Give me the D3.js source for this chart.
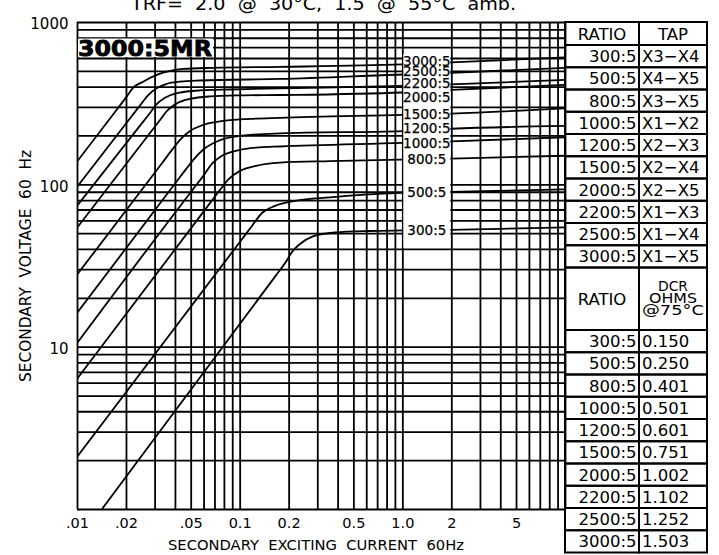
<!DOCTYPE html>
<html>
<head>
<meta charset="utf-8">
<script src="https://cdn.jsdelivr.net/npm/d3@7"></script>
<style>
  body { margin: 0; background: #fff; }
  svg { display: block; font-family: "DejaVu Sans", sans-serif; }
  .grid line { stroke: #000; stroke-width: 1.8; }
  .grid .domain { display: none; }
  .cell { fill: none; stroke: #000; stroke-width: 2; }
</style>
</head>
<body>
<div id="chart"></div>
<script>
// table columns
const ratios = ["300:5", "500:5", "800:5", "1000:5", "1200:5", "1500:5", "2000:5", "2200:5", "2500:5", "3000:5"]
const taps = ["X3\u2212X4", "X4\u2212X5", "X3\u2212X5", "X1\u2212X2", "X2\u2212X3", "X2\u2212X4", "X2\u2212X5", "X1\u2212X3", "X1\u2212X4", "X1\u2212X5"]
const dcrOhms = ["0.150", "0.250", "0.401", "0.501", "0.601", "0.751", "1.002", "1.102", "1.252", "1.503"]

// axis ticks
const xTickValues = [0.01, 0.02, 0.05, 0.1, 0.2, 0.5, 1, 2, 5]
const xTickLabels = [".01", ".02", ".05", "0.1", "0.2", "0.5", "1.0", "2", "5"]
const yTickValues = [10, 100, 1000]
const yTickLabels = ["10", "100", "1000"]

// excitation curves: [secondary current A, secondary volts]
const curve300 = [[0.01425, 1], [0.1672, 27.5], [0.1926, 33.3], [0.2097, 38.3], [0.2348, 42.9], [0.2821, 47.8], [0.385, 50.5], [0.632, 51.6], [1, 52], [2, 52.4], [10, 54.3]]
const curve500 = [[0.01, 2.09], [0.1033, 45.9], [0.119, 55.4], [0.1371, 66.6], [0.1648, 73.6], [0.2188, 79], [0.359, 83.1], [1, 88.5], [2, 89.8], [10, 93]]
const curve800 = [[0.01, 6.32], [0.0657, 76.6], [0.0757, 92.4], [0.0859, 108], [0.1004, 121], [0.126, 130], [0.177, 136], [0.359, 139], [1, 142], [2, 144], [10, 150]]
const curve1000 = [[0.01, 10.5], [0.0524, 95], [0.0603, 114], [0.0676, 134], [0.0778, 150], [0.0976, 162], [0.1333, 169], [0.177, 171], [1, 180], [2, 184], [10, 195]]
const curve1200 = [[0.01, 16.1], [0.0406, 103], [0.0468, 124], [0.0524, 143], [0.0603, 165], [0.0736, 185], [0.1004, 199], [0.177, 206], [1, 213], [2, 220], [10, 229]]
const curve1500 = [[0.01, 27.7], [0.0333, 135], [0.0384, 163], [0.043, 188], [0.0495, 213], [0.0587, 231], [0.0757, 244], [0.1157, 253], [0.177, 257], [1, 268], [2, 273], [10, 294]]
const curve2000 = [[0.01, 53.9], [0.0281, 207], [0.0324, 249], [0.0357, 283], [0.0406, 313], [0.0495, 336], [0.0657, 348], [0.1004, 353], [0.177, 355], [1, 368], [2, 382], [10, 410]]
const curve2200 = [[0.01, 73.6], [0.0244, 230], [0.0281, 275], [0.0306, 309], [0.0347, 341], [0.0418, 366], [0.057, 379], [0.0872, 384], [0.177, 390], [1, 404], [2, 413], [10, 440]]
const curve2500 = [[0.01, 96.4], [0.0215, 260], [0.025, 316], [0.0274, 355], [0.0309, 391], [0.0356, 416], [0.043, 429], [0.057, 436], [0.177, 446], [1, 475], [2, 486], [10, 522]]
const curve3000 = [[0.01, 138], [0.0174, 285], [0.0202, 347], [0.0221, 393], [0.0255, 429], [0.0309, 472], [0.0373, 500], [0.0448, 514], [0.0686, 522], [0.177, 529], [1, 548], [2, 564], [10, 605]]

const curves = [
  { ratio: "300:5", points: curve300 },
  { ratio: "500:5", points: curve500 },
  { ratio: "800:5", points: curve800 },
  { ratio: "1000:5", points: curve1000 },
  { ratio: "1200:5", points: curve1200 },
  { ratio: "1500:5", points: curve1500 },
  { ratio: "2000:5", points: curve2000 },
  { ratio: "2200:5", points: curve2200 },
  { ratio: "2500:5", points: curve2500 },
  { ratio: "3000:5", points: curve3000 },
]

// small label shifts where the top labels crowd together
const labelNudge = { "3000:5": -2, "2500:5": -3, "2200:5": -2, "2000:5": 5.5, "1200:5": -2, "1000:5": 1 }

const W = 719, H = 555
const plotL = 77, plotR = 565, plotT = 22, plotB = 509

const x = d3.scaleLog().domain([0.01, 10]).range([plotL, plotR])
const y = d3.scaleLog().domain([1, 1000]).range([plotB, plotT])

const svg = d3.select("#chart").append("svg")
  .attr("width", W)
  .attr("height", H)

svg.append("rect").attr("width", W).attr("height", H).attr("fill", "#fff")

// grid
svg.append("g")
  .attr("class", "grid")
  .attr("transform", `translate(0,${plotB})`)
  .call(d3.axisBottom(x).tickValues(x.ticks()).tickSize(-(plotB - plotT)).tickFormat(""))

svg.append("g")
  .attr("class", "grid")
  .attr("transform", `translate(${plotL},0)`)
  .call(d3.axisLeft(y).tickValues(y.ticks()).tickSize(-(plotR - plotL)).tickFormat(""))

// curves
svg.append("clipPath").attr("id", "plot-clip")
  .append("rect")
  .attr("x", plotL).attr("y", plotT)
  .attr("width", plotR - plotL).attr("height", plotB - plotT)

const line = d3.line()
  .x(d => x(d[0]))
  .y(d => y(d[1]))
  .curve(d3.curveMonotoneX)

svg.append("g")
  .attr("clip-path", "url(#plot-clip)")
  .selectAll("path")
  .data(curves)
  .join("path")
  .attr("d", d => line(d.points))
  .attr("fill", "none")
  .attr("stroke", "#000")
  .attr("stroke-width", 1.8)

// label gap between 1.0 and 2
svg.append("rect")
  .attr("x", x(1) + 1)
  .attr("y", 54)
  .attr("width", x(2) - x(1) - 2)
  .attr("height", 194)
  .attr("fill", "#fff")

const valAt = (pts, c) => pts.find(p => p[0] === c)[1]

svg.append("g")
  .selectAll("text")
  .data(curves)
  .join("text")
  .attr("x", (x(1) + x(2)) / 2)
  .attr("y", d => (y(valAt(d.points, 1)) + y(valAt(d.points, 2))) / 2 + (labelNudge[d.ratio] || 0))
  .attr("dy", "0.36em")
  .attr("text-anchor", "middle")
  .attr("font-size", 13.5)
  .attr("stroke", "#000")
  .attr("stroke-width", 0.25)
  .text(d => d.ratio)

// big title inside plot
svg.append("rect")
  .attr("x", plotL + 1).attr("y", 38.5)
  .attr("width", 135).attr("height", 18.5)
  .attr("fill", "#fff")

svg.append("text")
  .attr("x", plotL + 1)
  .attr("y", 56)
  .attr("font-size", 22)
  .attr("font-weight", "bold")
  .attr("stroke", "#000")
  .attr("stroke-width", 0.8)
  .attr("textLength", 134)
  .attr("lengthAdjust", "spacingAndGlyphs")
  .text("3000:5MR")

// tick labels
svg.append("g")
  .attr("transform", `translate(0,${plotB})`)
  .call(d3.axisBottom(x).tickValues(xTickValues).tickSize(0).tickPadding(9)
    .tickFormat((d, i) => xTickLabels[i]))
  .call(g => g.select(".domain").remove())
  .call(g => g.selectAll("text").attr("font-size", 14.5).attr("fill", "#000").attr("font-family", "DejaVu Sans"))

svg.append("g")
  .attr("transform", `translate(${plotL},0)`)
  .call(d3.axisLeft(y).tickValues(yTickValues).tickSize(0).tickPadding(8.5)
    .tickFormat((d, i) => yTickLabels[i]))
  .call(g => g.select(".domain").remove())
  .call(g => g.selectAll("text").attr("font-size", 15).attr("dy", "0.45em").attr("fill", "#000").attr("font-family", "DejaVu Sans"))

// axis titles
svg.append("text")
  .attr("x", 168)
  .attr("y", 550)
  .attr("font-size", 14.5)
  .attr("textLength", 296)
  .attr("lengthAdjust", "spacingAndGlyphs")
  .attr("xml:space", "preserve")
  .text("SECONDARY  EXCITING  CURRENT  60Hz")

svg.append("text")
  .attr("transform", "translate(31,266) rotate(-90)")
  .attr("text-anchor", "middle")
  .attr("font-size", 16)
  .attr("textLength", 232)
  .attr("lengthAdjust", "spacingAndGlyphs")
  .attr("xml:space", "preserve")
  .text("SECONDARY  VOLTAGE  60  Hz")

// cut-off heading at the very top
svg.append("text")
  .attr("x", 131)
  .attr("y", 10)
  .attr("font-size", 18)
  .attr("textLength", 385)
  .attr("lengthAdjust", "spacingAndGlyphs")
  .attr("xml:space", "preserve")
  .text("TRF=  2.0  @  30\u00b0C,  1.5  @  55\u00b0C  amb.")

// tables
const tx0 = 565, tx1 = 639, tx2 = 707
const rowH = 22.25
const t1Top = 22, t1Head = 23
const t2Top = t1Top + t1Head + rowH * ratios.length
const t2Head = 62.5

const tables = svg.append("g")

function drawTable(yTop, headH, values, headerDraw) {
  const g = tables.append("g")
  g.append("rect").attr("class", "cell")
    .attr("x", tx0).attr("y", yTop).attr("width", tx1 - tx0).attr("height", headH)
  g.append("rect").attr("class", "cell")
    .attr("x", tx1).attr("y", yTop).attr("width", tx2 - tx1).attr("height", headH)
  headerDraw(g, yTop, headH)

  const rows = g.selectAll("g.row")
    .data(ratios.map((r, i) => ({ r, v: values[i], i })))
    .join("g")
    .attr("class", "row")
    .attr("transform", d => `translate(0,${yTop + headH + d.i * rowH})`)

  rows.append("rect").attr("class", "cell")
    .attr("x", tx0).attr("width", tx1 - tx0).attr("height", rowH)
  rows.append("rect").attr("class", "cell")
    .attr("x", tx1).attr("width", tx2 - tx1).attr("height", rowH)
  rows.append("text")
    .attr("x", tx1 - 2.5)
    .attr("y", rowH / 2 + 6)
    .attr("text-anchor", "end")
    .attr("font-size", 16.5)
    .text(d => d.r)
  rows.append("text")
    .attr("x", tx1 + 3)
    .attr("y", rowH / 2 + 6)
    .attr("font-size", 16.5)
    .text(d => d.v)
}

drawTable(t1Top, t1Head, taps, (g, yTop, h) => {
  g.append("text").attr("x", (tx0 + tx1) / 2).attr("y", yTop + h / 2 + 6)
    .attr("text-anchor", "middle").attr("font-size", 16.5).text("RATIO")
  g.append("text").attr("x", (tx1 + tx2) / 2).attr("y", yTop + h / 2 + 6)
    .attr("text-anchor", "middle").attr("font-size", 16.5).text("TAP")
})

drawTable(t2Top, t2Head, dcrOhms, (g, yTop, h) => {
  g.append("text").attr("x", (tx0 + tx1) / 2).attr("y", yTop + h / 2 + 6)
    .attr("text-anchor", "middle").attr("font-size", 16.5).text("RATIO")
  const lines = [["DCR", 30], ["OHMS", 48], ["@75\u00b0C", 62]]
  g.selectAll("text.dcr")
    .data(lines)
    .join("text")
    .attr("class", "dcr")
    .attr("x", (tx1 + tx2) / 2)
    .attr("y", (d, i) => yTop + 23 + i * 12.2)
    .attr("text-anchor", "middle")
    .attr("font-size", 13.5)
    .attr("textLength", d => d[1])
    .attr("lengthAdjust", "spacingAndGlyphs")
    .text(d => d[0])
})
</script>
</body>
</html>
